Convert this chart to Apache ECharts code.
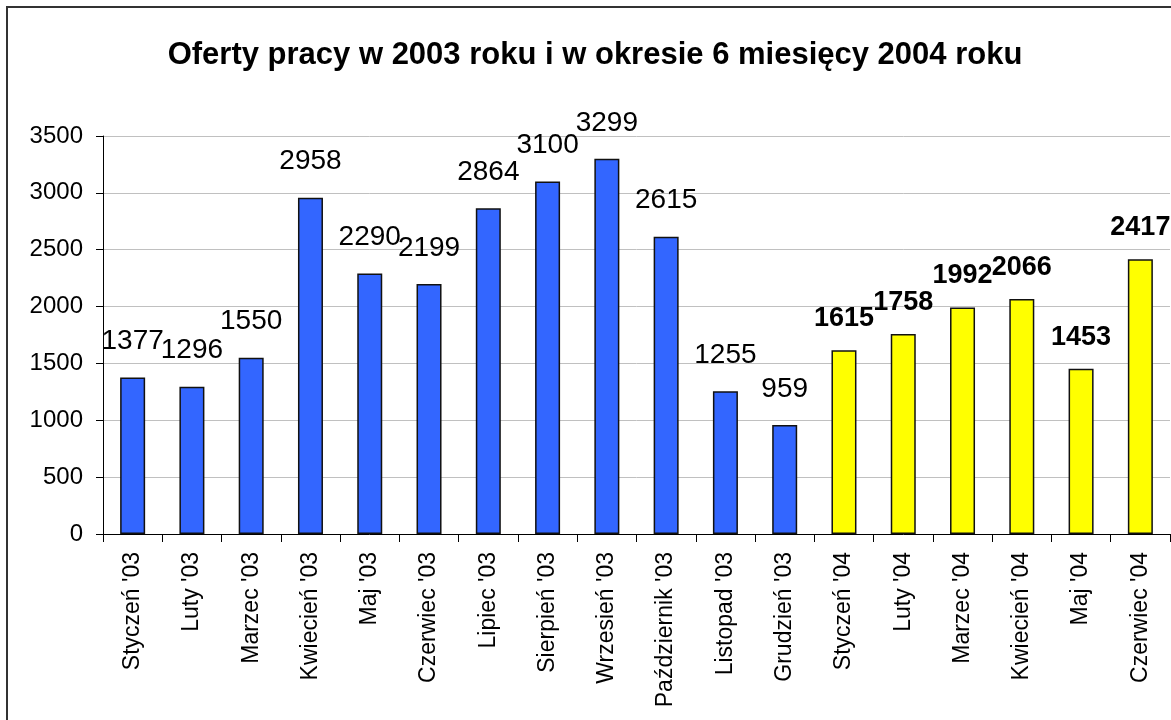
<!DOCTYPE html>
<html>
<head>
<meta charset="utf-8">
<script src="https://cdn.jsdelivr.net/npm/echarts@6/dist/echarts.min.js"></script>
<style>
  html, body { margin: 0; padding: 0; background: #fff; }
  #chart { width: 1171px; height: 720px; }
</style>
</head>
<body>
<div id="chart"></div>
<script>
const months = [
  "Styczeń '03", "Luty '03", "Marzec '03", "Kwiecień '03", "Maj '03", "Czerwiec '03",
  "Lipiec '03", "Sierpień '03", "Wrzesień '03", "Październik '03", "Listopad '03", "Grudzień '03",
  "Styczeń '04", "Luty '04", "Marzec '04", "Kwiecień '04", "Maj '04", "Czerwiec '04",
];
const offers2003 = [1377, 1296, 1550, 2958, 2290, 2199, 2864, 3100, 3299, 2615, 1255, 959];
const offers2004 = [1615, 1758, 1992, 2066, 1453, 2417];
const yTicks = [0, 500, 1000, 1500, 2000, 2500, 3000, 3500];

const font = "'Liberation Sans', Arial, sans-serif";

// pad each year with empty slots so both series share the category axis
const data2003 = offers2003.concat(offers2004.map(() => "-"));
const data2004 = offers2003.map(() => "-").concat(offers2004);

const chart = echarts.init(document.getElementById("chart"));

chart.setOption({
  animation: false,
  backgroundColor: "#fff",
  title: {
    text: "Oferty pracy w 2003 roku i w okresie 6 miesięcy 2004 roku",
    left: 590,
    textAlign: "center",
    top: 35,
    textStyle: { fontFamily: font, fontSize: 31, fontWeight: "bold", color: "#000" },
  },
  graphic: [
    {
      type: "rect",
      shape: { x: 7, y: 7, width: 1180, height: 730 },
      style: { fill: "none", stroke: "#333", lineWidth: 2 },
      silent: true,
    },
  ],
  grid: { left: 103, right: 1, top: 136, bottom: 186 },
  xAxis: {
    type: "category",
    data: months,
    axisLine: { lineStyle: { color: "#000", width: 1 } },
    axisTick: { show: true, length: 8, lineStyle: { color: "#000" } },
    axisLabel: {
      rotate: 90,
      interval: 0,
      margin: 18,
      fontFamily: font,
      fontSize: 23,
      color: "#000",
    },
  },
  yAxis: {
    type: "value",
    min: yTicks[0],
    max: yTicks[yTicks.length - 1],
    interval: 500,
    axisLine: { show: true, lineStyle: { color: "#000", width: 1 } },
    axisTick: { show: true, length: 7, lineStyle: { color: "#000" } },
    axisLabel: {
      margin: 20,
      fontFamily: font,
      fontSize: 24,
      color: "#000",
      formatter: (v) => String(v),
    },
    splitLine: { show: true, lineStyle: { color: "#c0c0c0", width: 1 } },
  },
  series: [
    {
      type: "bar",
      data: data2003,
      barWidth: 25,
      barGap: "-100%",
      itemStyle: { color: "#3366ff", borderColor: "#111", borderWidth: 1.5 },
      label: {
        show: true,
        position: "top",
        distance: 22,
        fontFamily: font,
        fontSize: 28,
        color: "#000",
      },
    },
    {
      type: "bar",
      data: data2004,
      barWidth: 25,
      itemStyle: { color: "#ffff00", borderColor: "#111", borderWidth: 1.5 },
      label: {
        show: true,
        position: "top",
        distance: 18,
        fontFamily: font,
        fontSize: 27,
        fontWeight: "bold",
        color: "#000",
      },
    },
  ],
});
</script>
</body>
</html>
